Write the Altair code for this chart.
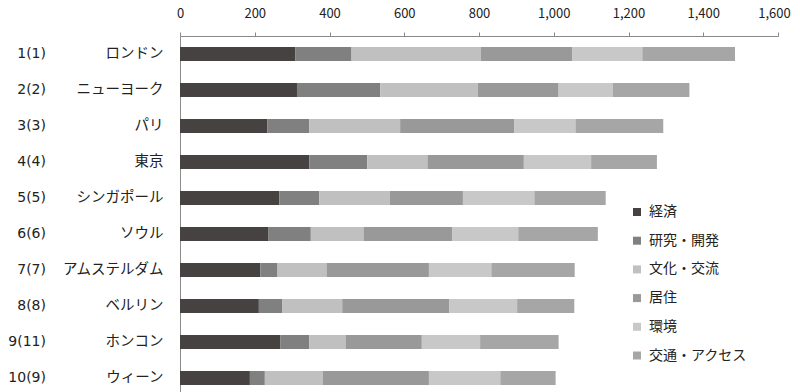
import altair as alt
import pandas as pd

cities = ["ロンドン", "ニューヨーク", "パリ", "東京", "シンガポール", "ソウル",
          "アムステルダム", "ベルリン", "ホンコン", "ウィーン"]
ranks = ["1(1)", "2(2)", "3(3)", "4(4)", "5(5)", "6(6)", "7(7)", "8(8)", "9(11)", "10(9)"]
categories = ["経済", "研究・開発", "文化・交流", "居住", "環境", "交通・アクセス"]
economy = [309, 313, 234, 346, 266, 237, 215, 211, 268, 187]
research = [150, 223, 112, 155, 107, 113, 46, 62, 78, 40]
culture = [346, 261, 243, 161, 188, 141, 131, 161, 97, 155]
livability = [244, 216, 306, 258, 196, 238, 274, 287, 204, 284]
environment = [188, 145, 163, 180, 191, 176, 167, 181, 156, 191]
access = [248, 205, 235, 176, 191, 213, 223, 153, 210, 148]
colors = ["#454241", "#808080", "#c0c0c0", "#999999", "#c8c8c8", "#a6a6a6"]
x_ticks = [0, 200, 400, 600, 800, 1000, 1200, 1400, 1600]

series = [economy, research, culture, livability, environment, access]
rows = []
for ci, (cat, vals) in enumerate(zip(categories, series)):
    for city, v in zip(cities, vals):
        rows.append({"city": city, "category": cat, "value": v, "order": ci})
df = pd.DataFrame(rows)
rank_df = pd.DataFrame({"city": cities, "rank": ranks})

FONT = "Noto Sans CJK JP"
TXT = "#222222"

y_enc = alt.Y("city:N", sort=cities,
              scale=alt.Scale(paddingInner=0.611, paddingOuter=0.3056),
              axis=alt.Axis(title=None, ticks=False, tickSize=0, labelPadding=17,
                            labelFont=FONT, labelFontSize=14.5, labelColor=TXT,
                            domainColor="#8a8a8a", labelAlign="right"))

bars = alt.Chart(df).mark_bar().encode(
    x=alt.X("value:Q", stack="zero",
            scale=alt.Scale(domain=[0, 1600], nice=False),
            axis=alt.Axis(orient="top", values=x_ticks, format=",d", title=None,
                          grid=False, tickSize=4, labelPadding=15,
                          labelBaseline="alphabetic", labelFlush=False,
                          labelOffset=alt.ExprRef("datum.value == 1600 ? -4 : 0"),
                          labelFont=FONT, labelFontSize=13, labelColor=TXT,
                          domainColor="#8a8a8a", tickColor="#8a8a8a")),
    y=y_enc,
    color=alt.Color("category:N", sort=categories,
                    scale=alt.Scale(domain=categories, range=colors),
                    legend=alt.Legend(title=None, orient="none", legendX=450, legendY=169,
                                      symbolType="square", symbolSize=64,
                                      symbolStrokeWidth=0, labelFont=FONT,
                                      labelFontSize=14, labelColor=TXT,
                                      rowPadding=14.7, labelOffset=5, padding=0)),
    order=alt.Order("order:Q"),
)

rank_text = alt.Chart(rank_df).mark_text(
    align="right", baseline="middle", font="DejaVu Sans", fontSize=14, color=TXT
).encode(
    x=alt.value(-134),
    y=alt.Y("city:N", sort=cities),
    text="rank:N",
)

chart = alt.layer(bars, rank_text).properties(
    width=598, height=360,
    padding={"left": 172, "top": 28, "right": 14, "bottom": 0},
    autosize=alt.AutoSizeParams(type="none"),
).configure_view(stroke=None)

chart.save("out.html", embed_options={"renderer": "svg", "actions": False})
